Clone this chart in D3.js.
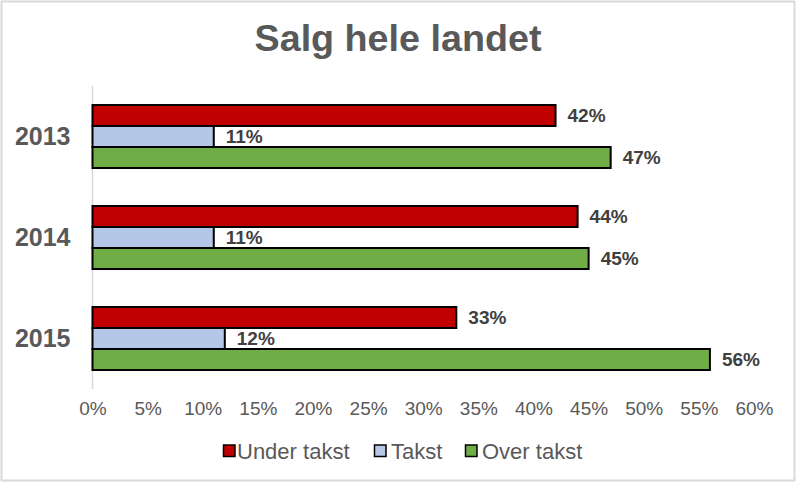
<!DOCTYPE html>
<html><head><meta charset="utf-8">
<script src="https://cdn.jsdelivr.net/npm/d3@7"></script>
<style>body{margin:0;background:#fff}svg{display:block}text{font-family:Arial,"Liberation Sans",sans-serif}</style>
</head><body>
<script>
const categories = ["2013", "2014", "2015"];
const seriesNames = ["Under takst", "Takst", "Over takst"];
const underTakst = [0.42, 0.44, 0.33];
const takst = [0.11, 0.11, 0.12];
const overTakst = [0.47, 0.45, 0.56];
const tickValues = [0, 0.05, 0.10, 0.15, 0.20, 0.25, 0.30, 0.35, 0.40, 0.45, 0.50, 0.55, 0.60];
const colors = ["#C00000", "#B4C7E7", "#70AD47"];
const seriesValues = [underTakst, takst, overTakst];

const W = 797, H = 484;
const svg = d3.select("body").append("svg").attr("width", W).attr("height", H);
svg.append("rect").attr("x", 1.5).attr("y", 1.5).attr("width", W - 4).attr("height", H - 5)
  .attr("fill", "#fff").attr("stroke", "#d9d9d9").attr("stroke-width", 2);

svg.append("text").attr("x", 398).attr("y", 51).attr("text-anchor", "middle")
  .attr("font-size", 37.7).attr("font-weight", "bold").attr("fill", "#595959").text("Salg hele landet");

const x = d3.scaleLinear().domain([0, 0.6]).range([92.5, 754]);
const y = d3.scaleBand().domain(categories).range([86, 389]).paddingInner(0.376).paddingOuter(0.188);
const ys = d3.scaleBand().domain(seriesNames).range([0, y.bandwidth()]);

// axis line
svg.append("line").attr("x1", x(0)).attr("x2", x(0)).attr("y1", 86).attr("y2", 389)
  .attr("stroke", "#d9d9d9").attr("stroke-width", 1.5);

const g = svg.append("g");
seriesNames.forEach((s, si) => {
  categories.forEach((c, ci) => {
    const v = seriesValues[si][ci];
    const by = y(c) + ys(s);
    g.append("rect").attr("x", x(0)).attr("y", by).attr("width", x(v) - x(0)).attr("height", ys.bandwidth())
      .attr("fill", colors[si]).attr("stroke", "#000").attr("stroke-width", 2);
    g.append("text").attr("x", x(v) + 12).attr("y", by + ys.bandwidth() / 2 + 6.5)
      .attr("font-size", 19).attr("font-weight", "bold").attr("fill", "#404040")
      .text(Math.round(v * 100) + "%");
  });
});

// category labels
const yAxis = svg.append("g").attr("transform", `translate(${x(0)},0)`)
  .call(d3.axisLeft(y).tickSize(0).tickPadding(22));
yAxis.select(".domain").remove();
yAxis.selectAll("text").attr("font-size", 25).attr("font-weight", "bold").attr("fill", "#595959")
  .attr("font-family", "Arial, 'Liberation Sans', sans-serif");

// x axis
const xAxis = svg.append("g").attr("transform", `translate(0,398)`)
  .call(d3.axisBottom(x).tickValues(tickValues).tickSize(0).tickPadding(4).tickFormat(d => Math.round(d * 100) + "%"));
xAxis.select(".domain").remove();
xAxis.selectAll("text").attr("font-size", 19).attr("fill", "#595959")
  .attr("font-family", "Arial, 'Liberation Sans', sans-serif");

// legend
const legendX = [223.5, 374.5, 465.5];
const legendTextX = [237, 391, 482];
const lg = svg.append("g");
seriesNames.forEach((s, i) => {
  lg.append("rect").attr("x", legendX[i]).attr("y", 445).attr("width", 11.5).attr("height", 11.5)
    .attr("fill", colors[i]).attr("stroke", "#000").attr("stroke-width", 1.5);
  lg.append("text").attr("x", legendTextX[i]).attr("y", 458.5).attr("font-size", 22)
    .attr("fill", "#595959").text(s);
});
</script>
</body></html>
